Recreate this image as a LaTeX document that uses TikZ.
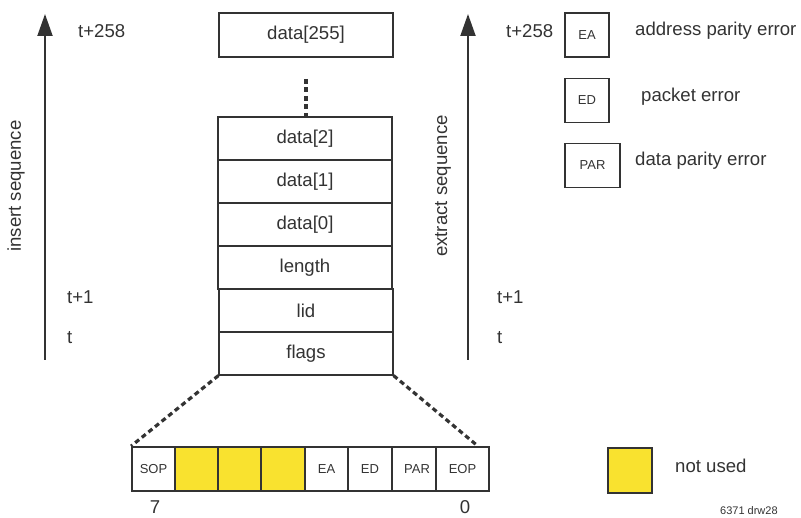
\documentclass[tikz,border=0pt]{standalone}
\usepackage{fontspec}
\setmainfont{Liberation Sans}
\usetikzlibrary{arrows.meta}
\definecolor{ink}{HTML}{333333}
\definecolor{notused}{HTML}{F9E22F}
\begin{document}
\begin{tikzpicture}[x=1pt,y=-1pt,
  every node/.style={text=ink},
  lbl/.style={font=\fontsize{18.6}{20}\selectfont, inner sep=0pt},
  cell/.style={draw=ink, line width=1.1pt, minimum width=174pt, minimum height=43pt, inner sep=0pt, font=\fontsize{18.6}{20}\selectfont},
  bit/.style={draw=ink, line width=1.8pt, minimum height=44pt, inner sep=0pt, font=\fontsize{13}{15}\selectfont},
  legbox/.style={draw=ink, line width=1.8pt, minimum height=44pt, inner sep=0pt, font=\fontsize{13}{15}\selectfont},
  seqarrow/.style={draw=ink, line width=2pt, -{Triangle[length=22pt,width=15pt]}},
  dots/.style={draw=ink, line width=3.2pt, dash pattern=on 5pt off 3.5pt}
]
\useasboundingbox (0,0) rectangle (801,518);

% left sequence arrow
\coordinate (la0) at (45,360);
\coordinate (la1) at (45,14);
\draw[seqarrow] (la0) -- (la1);
\node[lbl, rotate=90] (ins) at (16,186) {insert sequence};
\node[lbl, anchor=west] (lt258) at (78,31) {t+258};
\node[lbl, anchor=west] (lt1) at (67,297) {t+1};
\node[lbl, anchor=west] (lt) at (67,338) {t};

% right sequence arrow
\coordinate (ra0) at (468,360);
\coordinate (ra1) at (468,14);
\draw[seqarrow] (ra0) -- (ra1);
\node[lbl, rotate=90] (ext) at (443,186) {extract sequence};
\node[lbl, anchor=west] (rt258) at (506,31) {t+258};
\node[lbl, anchor=west] (rt1) at (497,297) {t+1};
\node[lbl, anchor=west] (rt) at (497,338) {t};

% stack
\node[cell, minimum height=44pt] (d255) at (306,35) {data[255]};
\node[cell] (d2) at (305,138.5) {data[2]};
\node[cell] (d1) at (305,181.5) {data[1]};
\node[cell] (d0) at (305,224.5) {data[0]};
\node[cell] (len) at (305,267.5) {length};
\node[cell] (lid) at (306,310.5) {lid};
\node[cell] (flags) at (306,353.5) {flags};
\coordinate (dtop) at (306,79);
\draw[dots] (dtop) -- (d2.north -| dtop);

% bottom bits
\node[bit, minimum width=43pt] (sop) at (153.5,469) {SOP};
\node[bit, minimum width=43pt, fill=notused] (u1) at (196.5,469) {};
\node[bit, minimum width=43pt, fill=notused] (u2) at (239.5,469) {};
\node[bit, minimum width=44pt, fill=notused] (u3) at (283,469) {};
\node[bit, minimum width=43pt] (ea) at (326.5,469) {EA};
\node[bit, minimum width=44pt] (ed) at (370,469) {ED};
\node[bit, minimum width=44pt] (par) at (414,469) {\hspace*{6pt}PAR};
\node[bit, minimum width=53pt] (eop) at (462.5,469) {EOP};
\node[lbl] (b7) at (155,507) {7};
\node[lbl] (b0) at (465,507) {0};
\draw[dots] (flags.south west) -- (sop.north west);
\draw[dots] (flags.south east) -- ([xshift=-12pt]eop.north east);

% legend
\node[legbox, minimum width=44pt] (lea) at (587,35) {EA};
\node[legbox, minimum width=44pt] (led) at (587,100.5) {ED};
\node[legbox, minimum width=55pt] (lpar) at (592.5,165.5) {PAR};
\node[lbl, anchor=west] (tea) at (635,31) {address parity error};
\node[lbl, anchor=west] (ted) at (641,97) {packet error};
\node[lbl, anchor=west] (tpar) at (635,161) {data parity error};
\node[legbox, minimum width=44pt, minimum height=45pt, fill=notused] (lnu) at (630,470.5) {};
\node[lbl, anchor=west] (tnu) at (675,466) {not used};
\node[font=\fontsize{11}{12}\selectfont, inner sep=0pt, anchor=west] (drw) at (720,511) {6371 drw28};
\end{tikzpicture}
\end{document}
